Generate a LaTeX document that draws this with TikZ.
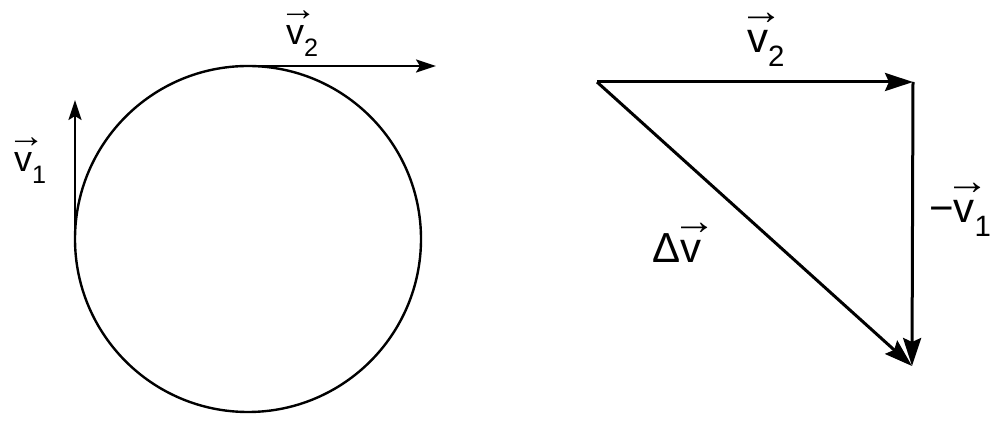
\documentclass[tikz,border=0pt]{standalone}
\usepackage{fontspec}
\setmainfont{Liberation Sans}
\usetikzlibrary{arrows.meta}
\newcommand\ovd{\leavevmode\rlap{\hspace{-0.19em}\raisebox{0.68em}{\scalebox{1.05}[0.95]{→}}}v}
\newcommand\ovv[1]{\ovd\raisebox{-0.33em}{\scalebox{0.7}{#1}}}
\begin{document}
\begin{tikzpicture}[x=1pt,y=-1pt,
  lvec/.style={line width=2.4pt,-{Stealth[length=20pt,width=13pt,inset=4pt]}},
  rvec/.style={line width=3pt,-{Stealth[length=28pt,width=18pt,inset=4pt]}},
  lbl/.style={inner sep=0pt,anchor=base west,font=\fontsize{36}{40}\selectfont},
  rlbl/.style={inner sep=0pt,anchor=base west,font=\fontsize{42}{46}\selectfont}]
\useasboundingbox (0,0) rectangle (1002,427);
% left: circle
\coordinate (O) at (248,239);
\draw[line width=2.4pt] (O) circle (173);
\coordinate (P1) at (75,239);
\coordinate (E1) at (75,100);
\coordinate (P2) at (248,66);
\coordinate (E2) at (436,66);
\draw[lvec] (P1) -- (E1);
\draw[lvec] (P2) -- (E2);
\node[lbl] (l1) at (14,172) {\ovv{1}};
\node[lbl] (l2) at (286,45) {\ovv{2}};
% right: triangle
\coordinate (A) at (597,82);
\coordinate (B) at (913,82);
\coordinate (C) at (912,366);
\draw[rvec] (A) -- (B);
\draw[rvec] (B) -- (C);
\draw[rvec] (A) -- (C);
\node[rlbl] (r2) at (747,53) {\ovv{2}};
\node[rlbl] (r1) at (929,223) {−\ovv{1}};
\node[rlbl] (rd) at (652,263) {Δ\ovd};
\end{tikzpicture}
\end{document}
